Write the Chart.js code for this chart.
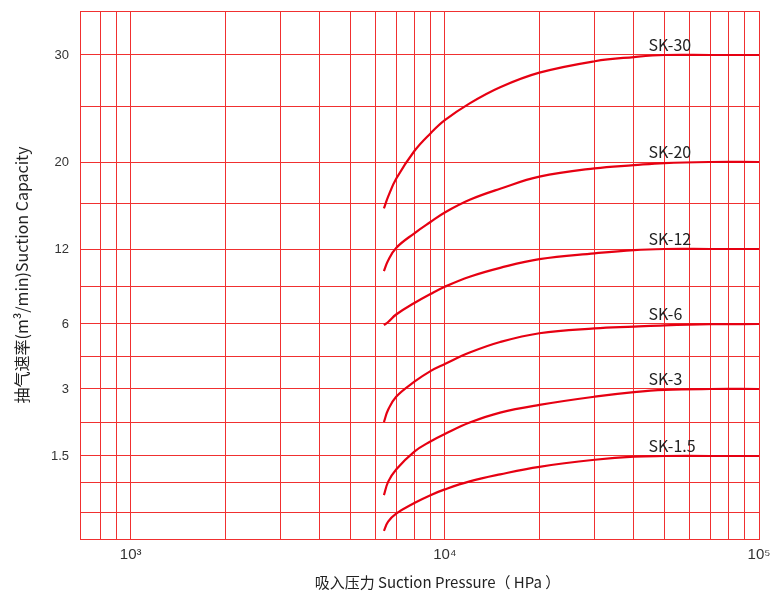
<!DOCTYPE html>
<html lang="zh">
<head>
<meta charset="UTF-8" />
<title>SK suction curves</title>
<script src="https://cdn.jsdelivr.net/npm/chart.js@4.4.1/dist/chart.umd.min.js"></script>
<style>
  body { margin: 0; background: #fff; }
  #wrap { width: 780px; height: 596px; }
</style>
</head>
<body>
<div id="wrap"><canvas id="chart"></canvas></div>
<script>
// pressure (HPa) where each curve is read
const pressure = [6400, 6600, 7000, 8000, 9000, 10000, 12000, 15000, 20000, 30000, 40000, 50000, 70000, 100000];

// suction capacity (m3/min) per model
const sk30  = [15.6, 16.7, 18.4, 21.0, 22.6, 23.8, 25.35, 26.9, 28.3, 29.4, 29.8, 30.0, 30.0, 30.0];
const sk20  = [10.26, 11.1, 12.1, 13.4, 14.4, 15.25, 16.4, 17.45, 18.6, 19.4, 19.7, 19.9, 20.0, 20.0];
const sk12  = [5.95, 6.16, 6.77, 7.7, 8.43, 9.02, 9.81, 10.51, 11.2, 11.66, 11.92, 12.0, 12.0, 12.0];
const sk6   = [2.27, 2.54, 2.83, 3.34, 3.84, 4.17, 4.7, 5.18, 5.58, 5.8, 5.88, 5.94, 5.99, 6.0];
const sk3   = [0.79, 1.02, 1.25, 1.6, 1.83, 2.0, 2.26, 2.48, 2.65, 2.83, 2.93, 2.98, 3.0, 3.0];
const sk1_5 = [0.15, 0.32, 0.47, 0.655, 0.79, 0.89, 1.03, 1.16, 1.30, 1.43, 1.49, 1.5, 1.5, 1.5];

const seriesNames = ['SK-30', 'SK-20', 'SK-12', 'SK-6', 'SK-3', 'SK-1.5'];
const seriesValues = [sk30, sk20, sk12, sk6, sk3, sk1_5];

// axis ticks
const xGrid = [690, 800, 900, 1000, 2000, 3000, 4000, 5000, 6000, 7000, 8000, 9000,
  10000, 20000, 30000, 40000, 50000, 60000, 70000, 80000, 90000, 100000];
const xLabels = { 1000: '10³', 10000: '10⁴', 100000: '10⁵' };
const yGrid = [0, 0.5, 1, 1.5, 2.25, 3, 4.5, 6, 9, 12, 16, 20, 25, 30, 40];
const yLabels = [1.5, 3, 6, 12, 20, 30];

// the capacity axis is not linear: where each grid value sits (0 = bottom, 1 = top)
const yGridPos = [0, 0.0511, 0.1061, 0.1572, 0.2197, 0.2841, 0.3447, 0.4072, 0.4773,
  0.5492, 0.6345, 0.7140, 0.8182, 0.9167, 1];

const labelPressure = 44500;
const RED = '#e60012';
const GRID = '#f03030';

function interp(v, from, to) {
  if (v <= from[0]) return to[0];
  for (let i = 1; i < from.length; i++) {
    if (v <= from[i]) {
      const t = (v - from[i - 1]) / (from[i] - from[i - 1]);
      return to[i - 1] + t * (to[i] - to[i - 1]);
    }
  }
  return to[to.length - 1];
}

class PiecewiseScale extends Chart.LinearScale {
  buildTicks() {
    this.start = this.min;
    this.end = this.max;
    return yGrid.map(v => ({ value: v }));
  }
  getPixelForValue(value) {
    return this.getPixelForDecimal(interp(value, yGrid, yGridPos));
  }
  getValueForPixel(pixel) {
    return interp(this.getDecimalForPixel(pixel), yGridPos, yGrid);
  }
}
PiecewiseScale.id = 'piecewise';
PiecewiseScale.defaults = Chart.LinearScale.defaults;
Chart.register(PiecewiseScale);

const curveLabels = {
  id: 'curveLabels',
  afterDatasetsDraw(chart) {
    const ctx = chart.ctx;
    const xs = chart.scales.x, ys = chart.scales.y;
    ctx.save();
    ctx.font = '16px "Noto Sans CJK SC", "Open Sans", sans-serif';
    ctx.fillStyle = '#222';
    ctx.textAlign = 'left';
    ctx.textBaseline = 'bottom';
    chart.data.datasets.forEach(ds => {
      const last = ds.data[ds.data.length - 1].y;
      ctx.fillText(ds.label, xs.getPixelForValue(labelPressure), ys.getPixelForValue(last) - 2);
    });
    // x axis title
    const a = chart.chartArea;
    ctx.font = '15px "Noto Sans CJK SC", sans-serif';
    ctx.fillStyle = '#222';
    ctx.textAlign = 'center';
    ctx.textBaseline = 'middle';
    ctx.fillText('吸入压力 Suction Pressure（ HPa ）', (a.left + a.right) / 2 + 18, 582);
    ctx.restore();
  }
};

new Chart(document.getElementById('chart'), {
  type: 'line',
  data: {
    datasets: seriesNames.map((name, i) => ({
      label: name,
      data: pressure.map((p, j) => ({ x: p, y: seriesValues[i][j] })),
      borderColor: RED,
      borderWidth: 2.2,
      pointRadius: 0,
      fill: false,
      tension: 0.4
    }))
  },
  options: {
    responsive: true,
    maintainAspectRatio: false,
    animation: false,
    layout: { padding: { top: 11, right: 21, left: 0, bottom: 0 } },
    plugins: {
      legend: { display: false },
      tooltip: { enabled: false }
    },
    scales: {
      x: {
        type: 'logarithmic',
        min: 690,
        max: 100000,
        afterBuildTicks: scale => { scale.ticks = xGrid.map(v => ({ value: v })); },
        afterFit: scale => { scale.height = 57; scale.paddingLeft = 0; scale.paddingRight = 0; },
        grid: { color: GRID, lineWidth: 1, drawTicks: false },
        border: { color: GRID, width: 1 },
        ticks: {
          autoSkip: false,
          maxRotation: 0,
          padding: 7,
          color: '#333',
          font: { family: '"Liberation Sans", Arial, sans-serif', size: 15 },
          callback: v => xLabels[v] || ''
        }
      },
      y: {
        type: 'piecewise',
        min: 0,
        max: 40,
        afterFit: scale => { scale.width = 80; scale.paddingTop = 0; scale.paddingBottom = 0; },
        grid: { color: GRID, lineWidth: 1, drawTicks: false },
        border: { color: GRID, width: 1 },
        ticks: {
          autoSkip: false,
          padding: 11,
          color: '#333',
          font: { family: '"Liberation Sans", Arial, sans-serif', size: 13 },
          callback: v => (yLabels.includes(v) ? String(v) : '')
        },
        title: {
          display: true,
          text: '抽气速率(m³/min)Suction Capacity',
          color: '#222',
          font: { family: '"Noto Sans CJK SC", sans-serif', size: 16 },
          padding: { top: 12 }
        }
      }
    }
  },
  plugins: [curveLabels]
});
</script>
</body>
</html>
